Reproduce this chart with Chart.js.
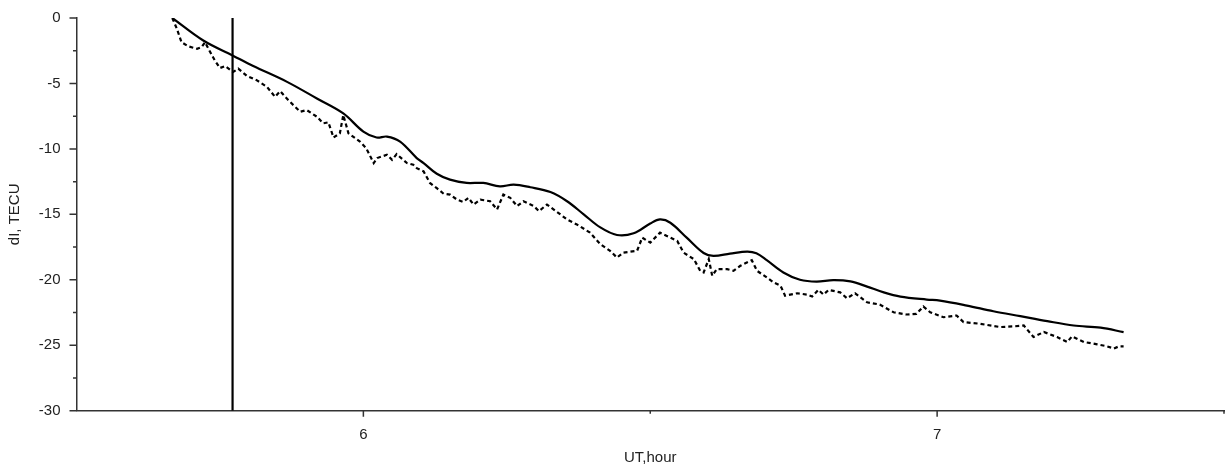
<!DOCTYPE html>
<html>
<head>
<meta charset="utf-8">
<script src="https://cdn.jsdelivr.net/npm/chart.js@4.4.1/dist/chart.umd.min.js"></script>
<style>
  html, body { margin: 0; padding: 0; background: #fff; }
  #wrap { width: 1227px; height: 464px; }
</style>
</head>
<body>
<div id="wrap"><canvas id="c" width="1227" height="464"></canvas></div>
<script>
// UT hours and dI (TECU) for the smooth reference curve
const smoothTimes = [5.667, 5.721, 5.772, 5.808, 5.867, 5.919, 5.965, 6.0, 6.023, 6.041, 6.064, 6.093, 6.105, 6.128, 6.151, 6.180, 6.209, 6.238, 6.262, 6.291, 6.326, 6.355, 6.384, 6.413, 6.442, 6.471, 6.5, 6.517, 6.535, 6.564, 6.593, 6.610, 6.639, 6.669, 6.685, 6.703, 6.732, 6.761, 6.79, 6.819, 6.849, 6.878, 6.907, 6.936, 6.982, 7.005, 7.052, 7.098, 7.145, 7.192, 7.238, 7.285, 7.325];
const smoothValues = [0, -1.72, -2.86, -3.67, -4.88, -6.15, -7.29, -8.68, -9.13, -9.06, -9.44, -10.7, -11.08, -11.9, -12.35, -12.6, -12.6, -12.86, -12.73, -12.93, -13.3, -14.0, -15.0, -16.0, -16.58, -16.45, -15.7, -15.39, -15.64, -16.8, -17.95, -18.17, -18.0, -17.85, -17.98, -18.5, -19.44, -20.0, -20.14, -20.02, -20.12, -20.52, -20.96, -21.28, -21.51, -21.59, -21.97, -22.4, -22.78, -23.16, -23.49, -23.66, -24.0];

// UT hours and dI (TECU) for the observed (dashed) curve
const observedTimes = [5.667, 5.675, 5.683, 5.695, 5.710, 5.718, 5.724, 5.733, 5.741, 5.750, 5.759, 5.773, 5.782, 5.797, 5.814, 5.832, 5.846, 5.855, 5.869, 5.890, 5.901, 5.919, 5.930, 5.939, 5.948, 5.959, 5.965, 5.974, 5.994, 6.005, 6.018, 6.024, 6.041, 6.050, 6.058, 6.076, 6.087, 6.093, 6.105, 6.116, 6.128, 6.140, 6.151, 6.163, 6.174, 6.183, 6.192, 6.204, 6.221, 6.233, 6.244, 6.256, 6.268, 6.279, 6.297, 6.306, 6.320, 6.337, 6.355, 6.372, 6.395, 6.413, 6.430, 6.442, 6.453, 6.477, 6.486, 6.500, 6.517, 6.535, 6.547, 6.558, 6.576, 6.587, 6.593, 6.602, 6.608, 6.616, 6.634, 6.645, 6.657, 6.677, 6.686, 6.703, 6.715, 6.727, 6.735, 6.756, 6.773, 6.782, 6.793, 6.802, 6.811, 6.831, 6.843, 6.857, 6.878, 6.900, 6.924, 6.947, 6.964, 6.976, 6.988, 7.011, 7.034, 7.046, 7.075, 7.110, 7.133, 7.151, 7.168, 7.186, 7.209, 7.227, 7.235, 7.256, 7.279, 7.296, 7.308, 7.317, 7.325];
const observedValues = [0, -0.83, -1.85, -2.17, -2.35, -2.22, -1.85, -2.6, -3.24, -3.82, -3.67, -4.12, -3.87, -4.43, -4.75, -5.26, -6.02, -5.59, -6.27, -7.16, -7.03, -7.54, -8.05, -7.97, -9.13, -8.81, -7.41, -8.81, -9.44, -9.95, -11.08, -10.7, -10.45, -10.83, -10.4, -11.08, -11.21, -11.47, -11.72, -12.6, -13.0, -13.43, -13.49, -13.87, -14.05, -13.74, -14.25, -13.87, -14.0, -14.63, -13.49, -13.74, -14.37, -14.0, -14.37, -14.75, -14.25, -14.8, -15.39, -15.77, -16.4, -17.28, -17.79, -18.3, -17.92, -17.79, -16.78, -17.16, -16.4, -16.78, -17.03, -17.92, -18.42, -19.31, -19.44, -18.42, -19.69, -19.18, -19.18, -19.31, -18.93, -18.5, -19.31, -19.82, -20.2, -20.45, -21.21, -21.03, -21.13, -21.28, -20.77, -21.13, -20.77, -20.96, -21.41, -21.03, -21.72, -21.89, -22.48, -22.65, -22.6, -22.04, -22.48, -22.86, -22.73, -23.23, -23.36, -23.61, -23.56, -23.49, -24.37, -23.99, -24.37, -24.75, -24.32, -24.75, -24.93, -25.08, -25.25, -25.08, -25.08];

// Event marker time (UT hours)
const markerTime = [5.772, 5.772];
const markerValues = [0, -30];

// Axis ticks
const xMajorTicks = [6, 7];
const xMinorTicks = [6.5, 7.5];
const yMajorTicks = [0, -5, -10, -15, -20, -25, -30];
const yMinorTicks = [-2.5, -7.5, -12.5, -17.5, -22.5, -27.5];

const toPoints = (xs, ys) => xs.map((x, i) => ({ x: x, y: ys[i] }));

const AXIS_COLOR = '#333';
const FONT = { family: "'Liberation Sans', Arial, Helvetica, sans-serif", size: 15 };

// Draws the outward tick marks on both axes (long for labelled, short for unlabelled)
const tickMarks = {
  id: 'tickMarks',
  afterDraw(chart) {
    const ctx = chart.ctx;
    const xs = chart.scales.x, ys = chart.scales.y;
    ctx.save();
    ctx.strokeStyle = AXIS_COLOR;
    ctx.lineWidth = 1.5;
    ctx.beginPath();
    const yAxisX = xs.left;
    yMajorTicks.forEach(v => { const p = ys.getPixelForValue(v); ctx.moveTo(yAxisX - 7, p); ctx.lineTo(yAxisX, p); });
    yMinorTicks.forEach(v => { const p = ys.getPixelForValue(v); ctx.moveTo(yAxisX - 3.5, p); ctx.lineTo(yAxisX, p); });
    const xAxisY = ys.bottom;
    xMajorTicks.forEach(v => { const p = xs.getPixelForValue(v); ctx.moveTo(p, xAxisY); ctx.lineTo(p, xAxisY + 6); });
    xMinorTicks.forEach(v => { const p = xs.getPixelForValue(v); ctx.moveTo(p, xAxisY); ctx.lineTo(p, xAxisY + 3); });
    ctx.stroke();
    ctx.restore();
  }
};

new Chart(document.getElementById('c'), {
  type: 'line',
  data: {
    datasets: [
      {
        data: toPoints(smoothTimes, smoothValues),
        borderColor: '#000',
        borderWidth: 2.2,
        pointRadius: 0,
        tension: 0.35,
        fill: false
      },
      {
        data: toPoints(observedTimes, observedValues),
        borderColor: '#000',
        borderWidth: 2.2,
        borderDash: [4, 3],
        pointRadius: 0,
        tension: 0,
        fill: false
      },
      {
        data: toPoints(markerTime, markerValues),
        borderColor: '#000',
        borderWidth: 2.2,
        pointRadius: 0,
        tension: 0,
        fill: false
      }
    ]
  },
  options: {
    responsive: false,
    devicePixelRatio: 1,
    animation: false,
    layout: { padding: { top: 16, right: 3, left: 0, bottom: 0 } },
    plugins: { legend: { display: false }, tooltip: { enabled: false } },
    scales: {
      x: {
        type: 'linear',
        min: 5.5,
        max: 7.5,
        afterBuildTicks(scale) { scale.ticks = xMajorTicks.map(v => ({ value: v })); },
        afterFit(scale) { scale.height = 53.3; },
        ticks: { color: '#222', font: FONT, padding: 9, callback: v => String(v) },
        grid: { drawOnChartArea: false, drawTicks: true, tickLength: 6, color: 'rgba(0,0,0,0)' },
        border: { display: true, color: AXIS_COLOR, width: 1.5 },
        title: { display: true, text: 'UT,hour', color: '#222', font: FONT, padding: { top: 0, bottom: -3 } }
      },
      y: {
        type: 'linear',
        min: -30,
        max: 0,
        afterBuildTicks(scale) { scale.ticks = yMajorTicks.map(v => ({ value: v })); },
        afterFit(scale) { scale.width = 76.5; },
        ticks: { color: '#222', font: FONT, padding: 9, callback: v => String(v) },
        grid: { drawOnChartArea: false, drawTicks: true, tickLength: 7, color: 'rgba(0,0,0,0)' },
        border: { display: true, color: AXIS_COLOR, width: 1.5 },
        title: { display: true, text: 'dI, TECU', color: '#222', font: FONT, padding: { top: 6, bottom: 0 } }
      }
    }
  },
  plugins: [tickMarks]
});
</script>
</body>
</html>
